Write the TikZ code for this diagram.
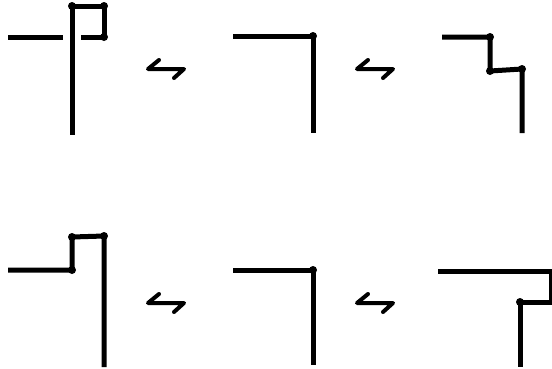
\documentclass[tikz,border=0pt]{standalone}
\begin{document}
\begin{tikzpicture}[x=1pt,y=-1pt,
  seg/.style={line width=5pt,line cap=butt,line join=miter},
  dotp/.style={fill=black},
  harp/.style={line width=4pt,line cap=round,line join=round}]
\useasboundingbox (0,0) rectangle (552,368);
% Row 1, figure 1
\draw[seg] (8,37) -- (63,37);
\draw[seg] (81,37) -- (104,37) -- (104,6) -- (72,6) -- (72,135);
\foreach \p in {(72,6),(104,6),(104,37)} \fill[dotp] \p circle (4);
% Row 1, figure 2
\draw[seg] (233,36) -- (313,36) -- (313,133);
\fill[dotp] (313,36) circle (4);
% Row 1, figure 3
\draw[seg] (442,37) -- (490,37) -- (490,71) -- (522,69) -- (522,133);
\foreach \p in {(490,37),(490,71),(522,69)} \fill[dotp] \p circle (4);
% Row 2, figure 1
\draw[seg] (8,270) -- (72,270) -- (72,237) -- (104,236) -- (104,367);
\foreach \p in {(72,270),(72,237),(104,236)} \fill[dotp] \p circle (4);
% Row 2, figure 2
\draw[seg] (233,270) -- (313,270) -- (313,365);
\fill[dotp] (313,270) circle (4);
% Row 2, figure 3
\draw[seg] (438,271) -- (551,271) -- (551,302) -- (520,302) -- (520,367);
\fill[dotp] (520,302) circle (4);
% harpoons
\foreach \x/\y in {148/69,357/69,148/303,357/303}{
  \draw[harp] (\x+11,\y-9) -- (\x,\y) -- (\x+36,\y) -- (\x+26,\y+9);
}
\end{tikzpicture}
\end{document}
